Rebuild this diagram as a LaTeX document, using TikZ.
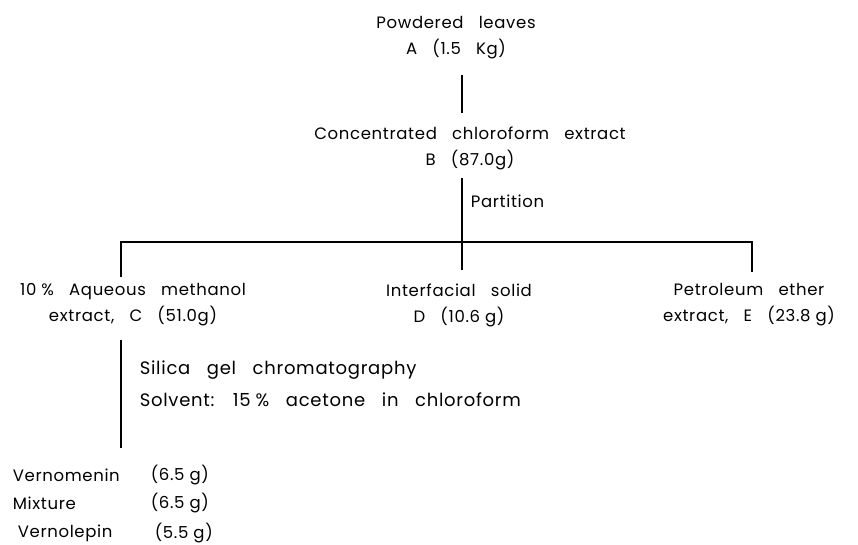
\documentclass[tikz,border=0pt]{standalone}
\usepackage{fontspec}
\setmainfont{Poppins}[WordSpace=3,LetterSpace=4]
\newcommand\gap{\hspace{5pt}}

\begin{document}
\begin{tikzpicture}[x=1pt,y=-1pt,line width=1.6pt,
  every node/.style={font=\fontsize{16.5}{26}\selectfont,inner sep=0pt}]
  \useasboundingbox (0,0) rectangle (858,544);

  \node [align=center] (A) at (456,38) { Powdered leaves\\A (1.5 Kg) };
  \node [align=center] (B) at (470,148) { Concentrated chloroform extract\\B (87.0g) };
  \node [align=center] (C) at (133,305) { 10\gap\% Aqueous methanol\\extract, C (51.0g) };
  \node [align=center] (D) at (459,305) { Interfacial solid\\D (10.6\gap g) };
  \node [align=center] (E) at (749,305) { Petroleum ether\\extract, E (23.8\gap g) };

  \coordinate (split) at (462,242);
  \draw (462,75) -- (462,113);
  \draw (462,178) -- (split) node [pos=0.37,right=8pt] { Partition };
  \draw (121,277) -- (121,242) -- (752,242) -- (752,272);
  \draw (split) -- (462,270);

  \draw (121,340) -- (121,448);
  \node [anchor=west,align=left,font=\fontsize{18}{32}\selectfont] (silica) at (139,384)
    { Silica gel chromatography\\Solvent: 15\gap\% acetone in chloroform };

  \node [anchor=west] (vm) at (12,475) { Vernomenin };
  \node [anchor=west] at (150,475) { (6.5\gap g) };
  \node [anchor=west] (mx) at (12,503) { Mixture };
  \node [anchor=west] at (150,503) { (6.5\gap g) };
  \node [anchor=west] (vl) at (17,533) { Vernolepin };
  \node [anchor=west] at (154,533) { (5.5\gap g) };
\end{tikzpicture}
\end{document}
